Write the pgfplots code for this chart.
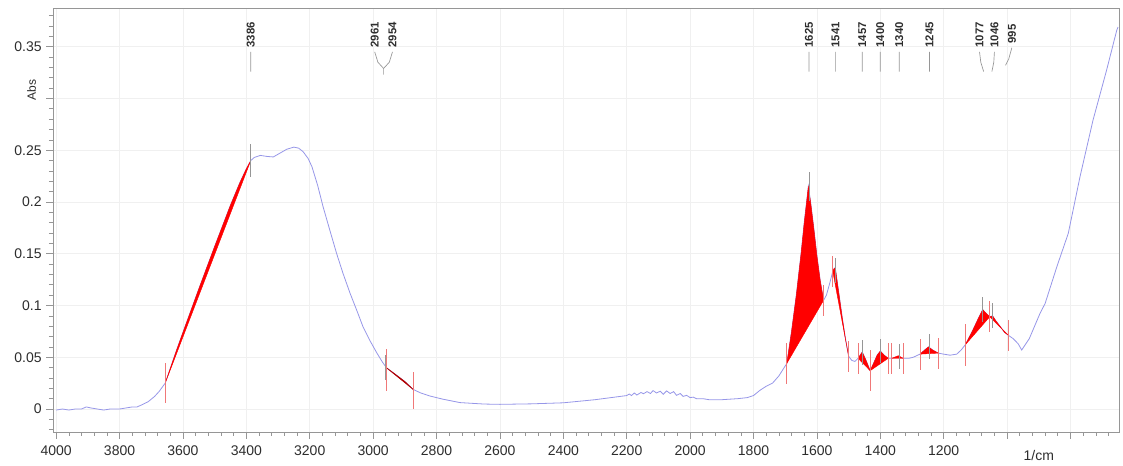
\documentclass[border=0pt]{standalone}
\usepackage{pgfplots}
\pgfplotsset{compat=1.18}
\usepackage{fontspec}
\setmainfont{Liberation Sans}
\definecolor{spec}{RGB}{150,150,232}
\definecolor{axgray}{RGB}{150,150,150}
\definecolor{lbl}{RGB}{45,45,45}
\definecolor{bnd}{RGB}{240,120,120}
\definecolor{pk}{RGB}{150,150,150}
\begin{document}
\begin{tikzpicture}[x=1pt,y=1pt]
\path[use as bounding box] (-39.75,-25.5) rectangle (802.5,324);
\begin{axis}[
  at={(0,0)}, anchor=south west,
  scale only axis, width=799.5pt, height=318pt,
  x dir=reverse, xmin=647, xmax=4010, ymin=-0.0222, ymax=0.3874,
  xtick={4000,3800,3600,3400,3200,3000,2800,2600,2400,2200,2000,1800,1600,1400,1200,1000,800},
  xticklabels={4000,3800,3600,3400,3200,3000,2800,2600,2400,2200,2000,1800,1600,1400,1200,,},
  minor xtick={680,720,760,840,880,920,960,1040,1080,1120,1160,1240,1280,1320,1360,1440,1480,1520,1560,1640,1680,1720,1760,1840,1880,1920,1960,2040,2080,2120,2160,2240,2280,2320,2360,2440,2480,2520,2560,2640,2680,2720,2760,2840,2880,2920,2960,3040,3080,3120,3160,3240,3280,3320,3360,3440,3480,3520,3560,3640,3680,3720,3760,3840,3880,3920,3960},
  ytick={0,0.05,0.1,0.15,0.2,0.25,0.3,0.35},
  yticklabels={0,0.05,0.1,0.15,0.2,0.25,,0.35},
  minor ytick={-0.02,-0.01,0.01,0.02,0.03,0.04,0.06,0.07,0.08,0.09,0.11,0.12,0.13,0.14,0.16,0.17,0.18,0.19,0.21,0.22,0.23,0.24,0.26,0.27,0.28,0.29,0.31,0.32,0.33,0.34,0.36,0.37,0.38},
  tick align=outside, xtick pos=bottom, ytick pos=left,
  major tick length=5pt, minor tick length=3pt,
  every tick/.style={axgray, line width=0.5pt},
  axis line style={axgray, line width=0.6pt},
  grid=major, major grid style={gray!12, line width=0.4pt},
  minor grid style={draw=none},
  ticklabel style={font=\fontsize{10.5}{12}\selectfont, text=lbl},
  xticklabel style={yshift=-2pt},
  /pgf/number format/assume math mode=true,
  clip=false,
  unbounded coords=jump,
]
% spectrum
\addplot[spec, line width=0.6pt] coordinates {
(4000,-0.001)(3980,0.000)(3960,-0.001)(3940,0.000)(3920,0.000)(3905,0.002)(3890,0.001)(3870,0.000)(3850,-0.001)(3830,0.000)(3800,0.000)(3780,0.001)(3760,0.002)(3745,0.002)(3730,0.004)(3710,0.007)(3690,0.012)(3675,0.017)(3656,0.025)
(3620,0.057)(3600,0.074)(3550,0.116)(3500,0.157)(3450,0.197)(3420,0.219)(3400,0.232)(3386,0.240)
(3375,0.243)(3356,0.245)(3335,0.244)(3315,0.2435)(3295,0.247)(3272,0.251)(3250,0.253)(3235,0.252)(3221,0.2486)(3205,0.242)(3193,0.234)(3175,0.216)(3158,0.1955)(3135,0.171)(3115,0.150)(3095,0.131)(3073,0.112)(3050,0.094)(3032,0.0795)(3010,0.066)(2988,0.054)(2970,0.045)(2957,0.0396)
(2930,0.0335)(2900,0.0265)(2874,0.019)(2850,0.0155)(2820,0.0125)(2780,0.0095)(2726,0.0062)(2650,0.0048)(2600,0.0045)(2500,0.005)(2400,0.006)(2300,0.009)(2250,0.011)
(2200,0.013)(2192,0.0145)(2185,0.013)(2176,0.0155)(2168,0.0135)(2155,0.016)(2147,0.0148)(2136,0.0168)(2125,0.015)(2117,0.0178)(2106,0.0155)(2094,0.0172)(2085,0.0142)(2074,0.0175)(2063,0.015)(2052,0.0168)(2043,0.0132)(2031,0.015)(2022,0.0122)(2011,0.0132)(2000,0.011)(1990,0.0115)(1980,0.010)(1960,0.010)(1940,0.009)(1900,0.009)(1850,0.010)(1820,0.011)(1800,0.013)(1780,0.018)(1760,0.022)(1740,0.025)(1720,0.032)(1695,0.044)
(1680,0.075)(1665,0.110)(1650,0.150)(1640,0.180)(1627,0.215)(1620,0.200)(1610,0.175)(1600,0.148)(1590,0.125)(1579,0.105)
(1570,0.110)(1560,0.121)(1550,0.133)(1545,0.136)(1541,0.134)(1530,0.110)(1520,0.088)(1510,0.068)(1500,0.051)
(1490,0.047)(1480,0.046)(1470,0.049)(1457,0.055)(1445,0.047)(1432,0.037)(1420,0.045)(1410,0.052)(1400,0.056)(1388,0.052)(1375,0.049)
(1364,0.049)(1343,0.0505)(1328,0.049)(1310,0.049)(1296,0.050)(1275,0.053)(1260,0.057)(1248,0.060)(1235,0.057)(1217,0.054)(1200,0.053)(1180,0.052)(1159,0.053)(1145,0.057)
(1132,0.062)(1110,0.075)(1090,0.088)(1077,0.096)(1065,0.092)(1055,0.089)(1046,0.090)(1035,0.085)(1020,0.079)(1008,0.074)(995,0.071)(981,0.068)(965,0.063)(954,0.057)
(930,0.068)(896,0.0925)(880,0.102)(843,0.1375)(807,0.1697)(770,0.2244)(729,0.279)(686,0.3275)(654,0.366)(650,0.369)
};
% integrated areas
\addplot[fill=red, draw=red, line width=0.3pt] coordinates {(3656,0.025)(3620,0.057)(3600,0.074)(3550,0.116)(3500,0.157)(3450,0.197)(3420,0.219)(3400,0.232)(3386,0.240)(3656,0.025)};
\addplot[fill=red!70!black, draw=red!70!black, line width=0.5pt] coordinates {(2957,0.0396)(2930,0.0335)(2900,0.0265)(2874,0.019)(2957,0.0396)};
\addplot[fill=red, draw=red, line width=0.3pt] coordinates {(1695,0.044)(1680,0.075)(1665,0.110)(1650,0.150)(1640,0.180)(1627,0.215)(1620,0.200)(1610,0.175)(1600,0.148)(1590,0.125)(1579,0.105)(1695,0.044)};
\addplot[fill=red, draw=red, line width=0.3pt] coordinates {(1550,0.133)(1545,0.136)(1541,0.134)(1530,0.110)(1520,0.088)(1510,0.068)(1500,0.051)(1550,0.133)};
\addplot[fill=red, draw=red, line width=0.3pt] coordinates {(1470,0.049)(1457,0.055)(1445,0.047)(1432,0.037)(1470,0.049)};
\addplot[fill=red, draw=red, line width=0.3pt] coordinates {(1432,0.037)(1420,0.045)(1410,0.052)(1400,0.056)(1388,0.052)(1375,0.049)(1432,0.037)};
\addplot[fill=red, draw=red, line width=0.3pt] coordinates {(1364,0.049)(1343,0.0515)(1328,0.049)(1364,0.049)};
\addplot[fill=red, draw=red, line width=0.3pt] coordinates {(1275,0.053)(1260,0.057)(1248,0.060)(1235,0.057)(1217,0.054)(1275,0.053)};
\addplot[fill=red, draw=red, line width=0.3pt] coordinates {(1132,0.062)(1110,0.075)(1090,0.088)(1077,0.096)(1065,0.092)(1055,0.089)(1132,0.062)};
\addplot[fill=red, draw=red, line width=0.3pt] coordinates {(1055,0.089)(1046,0.090)(1035,0.085)(1020,0.079)(1008,0.074)(995,0.071)(1055,0.089)};
% boundary markers
\addplot[draw=none, mark=none, forget plot, error bars/.cd, y dir=both, y explicit, error mark=none,
  error bar style={bnd, line width=0.5pt}] coordinates {
(3656,0.025)+-(0,0.019)(2957,0.0375)+-(0,0.02)(2874,0.018)+-(0,0.018)
(1695,0.044)+-(0,0.02)(1579,0.105)+-(0,0.015)(1550,0.133)+-(0,0.015)(1500,0.051)+-(0,0.015)
(1470,0.049)+-(0,0.015)(1432,0.037)+-(0,0.02)(1375,0.049)+-(0,0.015)(1364,0.049)+-(0,0.015)(1328,0.049)+-(0,0.015)
(1275,0.053)+-(0,0.015)(1217,0.054)+-(0,0.015)(1132,0.062)+-(0,0.02)(1055,0.089)+-(0,0.015)(995,0.071)+-(0,0.015)
};
% peak markers
\addplot[draw=none, mark=none, forget plot, error bars/.cd, y dir=both, y explicit, error mark=none,
  error bar style={pk, line width=0.5pt}] coordinates {
(3386,0.240)+-(0,0.016)(2961,0.040)+-(0,0.012)(1625,0.215)+-(0,0.014)(1541,0.134)+-(0,0.012)
(1457,0.055)+-(0,0.012)(1400,0.056)+-(0,0.012)(1340,0.0505)+-(0,0.012)(1245,0.060)+-(0,0.012)
(1077,0.096)+-(0,0.012)(1046,0.090)+-(0,0.012)
};
% leader lines
\addplot[pk, line width=0.5pt] coordinates {
(3386,0.345)(3386,0.326)(nan,nan)
(2995,0.345)(2985,0.335)(2967,0.329)(2949,0.335)(2939,0.345)(nan,nan)
(2967,0.329)(2967,0.323)(nan,nan)
(1625,0.345)(1625,0.326)(nan,nan)
(1541,0.345)(1541,0.326)(nan,nan)
(1457,0.345)(1457,0.326)(nan,nan)
(1400,0.345)(1400,0.326)(nan,nan)
(1340,0.345)(1340,0.326)(nan,nan)
(1245,0.345)(1245,0.326)(nan,nan)
(1087,0.345)(1083,0.335)(1074,0.326)(nan,nan)
(1040,0.345)(1042,0.335)(1048,0.326)(nan,nan)
(985,0.349)(995,0.338)(1005,0.332)
};
% peak labels
\begin{scope}[every node/.style={rotate=90, anchor=west, inner sep=0pt, font=\bfseries\fontsize{8.5}{10}\selectfont, text=lbl}]
\node at (axis cs:3386,0.349) {3386};
\node at (axis cs:2995,0.349) {2961};
\node at (axis cs:2939,0.349) {2954};
\node at (axis cs:1625,0.349) {1625};
\node at (axis cs:1541,0.349) {1541};
\node at (axis cs:1457,0.349) {1457};
\node at (axis cs:1400,0.349) {1400};
\node at (axis cs:1340,0.349) {1340};
\node at (axis cs:1245,0.349) {1245};
\node at (axis cs:1087,0.349) {1077};
\node at (axis cs:1040,0.349) {1046};
\node at (axis cs:985,0.353) {995};
\end{scope}
\node[rotate=90, font=\fontsize{9}{10}\selectfont, text=lbl] at ([xshift=-16pt]axis cs:4010,0.308) {Abs};
\node[anchor=north, font=\fontsize{10.5}{12}\selectfont, text=lbl, yshift=-10.2pt] at (axis cs:900,-0.0222) {1/cm};
\end{axis}
\end{tikzpicture}
\end{document}
